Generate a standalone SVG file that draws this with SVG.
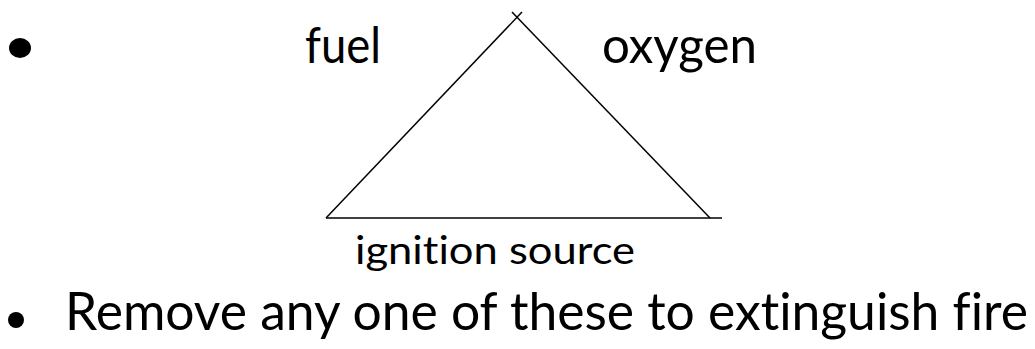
<svg xmlns="http://www.w3.org/2000/svg" width="1035" height="349" viewBox="0 0 1035 349">
<style>
text { font-family: Lato, "Open Sans", sans-serif; fill: #000; font-variant-ligatures: none; font-feature-settings: "liga" 0, "clig" 0; }
.big { font-size: 52px; }
.mid { font-size: 50px; }
.small { font-size: 38px; }
.ln { stroke: #000; stroke-width: 1.5; fill: none; }
</style>
<rect width="1035" height="349" fill="#fff"/>
<g id="bullet1"><ellipse cx="20" cy="48" rx="11" ry="10" fill="#000"/></g>
<g id="fuel"><text class="mid" x="305" y="63" textLength="76" lengthAdjust="spacingAndGlyphs">fuel</text></g>
<g id="oxygen"><text class="mid" x="602" y="63" textLength="155" lengthAdjust="spacingAndGlyphs">oxygen</text></g>
<g id="ignition"><text class="small" x="355" y="264" textLength="280" lengthAdjust="spacingAndGlyphs">ignition source</text></g>
<g id="connectors">
<line class="ln" x1="326" y1="218" x2="522" y2="12"/>
<line class="ln" x1="512" y1="12" x2="710" y2="218"/>
<line class="ln" x1="326" y1="218" x2="722" y2="218"/>
</g>
<g id="bullet2"><ellipse cx="16" cy="320" rx="8" ry="8" fill="#000"/>
<text class="big" x="65" y="330" textLength="963" lengthAdjust="spacingAndGlyphs">Remove any one of these to extinguish fire</text></g>
</svg>
